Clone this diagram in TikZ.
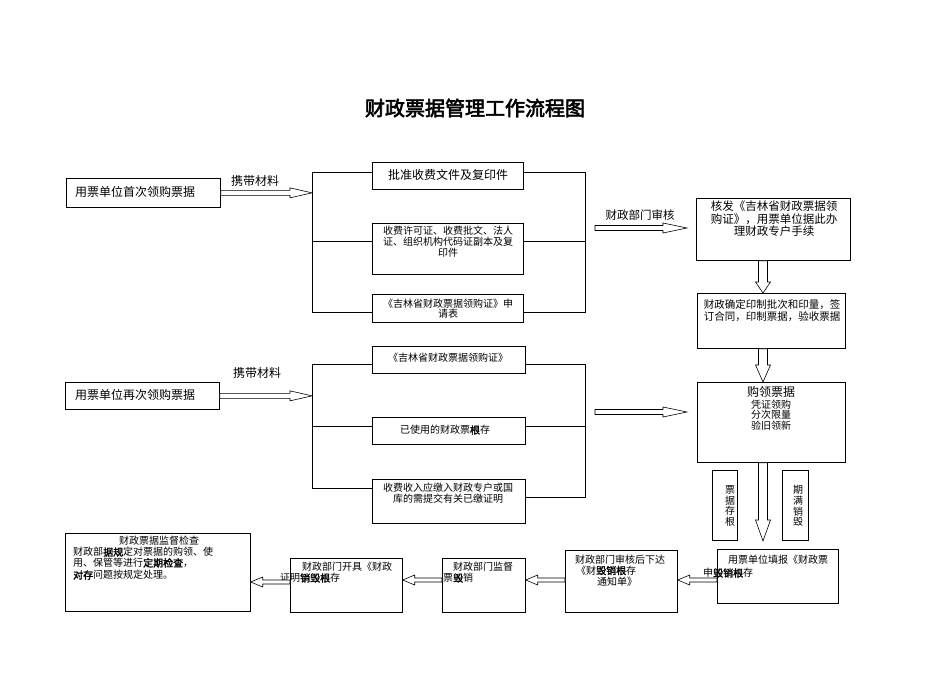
\documentclass[tikz,border=0pt]{standalone}
\usepackage{fontspec}
\setmainfont{Noto Sans CJK SC}
\newfontfamily\bdfont[FakeBold=2]{Noto Sans CJK SC}
\newfontfamily\titlefont[FakeBold=3]{Noto Sans CJK SC}
\usetikzlibrary{calc}
\newcommand\bd[1]{{\bdfont #1}}
\newcommand\fsz[2]{\fontsize{#1}{#2}\selectfont}
% horizontal arrow to the right: start, end, head length
\newcommand\arrR[3]{\draw[fatarrow] let \p1=#1, \p2=#2 in
  (\x1,\y1+2.5pt) -- (\x2-#3,\y1+2.5pt) -- (\x2-#3,\y1+5pt) -- (\x2,\y1) --
  (\x2-#3,\y1-5pt) -- (\x2-#3,\y1-2.5pt) -- (\x1,\y1-2.5pt) -- cycle;}
% horizontal arrow to the left
\newcommand\arrL[3]{\draw[fatarrow] let \p1=#1, \p2=#2 in
  (\x1,\y1+2pt) -- (\x2+#3,\y1+2pt) -- (\x2+#3,\y1+5pt) -- (\x2,\y1) --
  (\x2+#3,\y1-5pt) -- (\x2+#3,\y1-2pt) -- (\x1,\y1-2pt) -- cycle;}
% vertical arrow downwards
\newcommand\arrD[3]{\draw[fatarrow] let \p1=#1, \p2=#2 in
  (\x1-4.5pt,\y1) -- (\x1-4.5pt,\y2+#3) -- (\x1-7.5pt,\y2+#3) -- (\x1,\y2) --
  (\x1+7.5pt,\y2+#3) -- (\x1+4.5pt,\y2+#3) -- (\x1+4.5pt,\y1) -- cycle;}
\begin{document}
\begin{tikzpicture}[x=1pt,y=-1pt,
  box/.style={draw, line width=0.7pt, inner sep=0pt, anchor=north west},
  conn/.style={draw, line width=0.7pt},
  fatarrow/.style={draw, fill=white, line width=0.6pt, line join=miter},
  txt/.style={inner sep=0pt, align=center},
  ltxt/.style={inner sep=0pt, anchor=west}]
\useasboundingbox (0,0) rectangle (950,672);
\fill[white] (0,0) rectangle (950,672);

% title
\node[inner sep=0pt, font=\titlefont\fsz{20}{20}] (title) at (475,108) {财政票据管理工作流程图};

% ---------- first group ----------
\node[box, minimum width=154pt, minimum height=29pt] (A) at (66,178) {};
\node[ltxt, font=\fsz{12}{12}] (Atx) at (75,192) {用票单位首次领购票据};
\node[txt, font=\fsz{12}{12}] (lab1) at (255,181) {携带材料};

\node[box, minimum width=151pt, minimum height=27pt] (B1) at (372,162) {};
\node[txt, font=\fsz{12}{12}] (B1tx) at (448,175) {批准收费文件及复印件};
\node[box, minimum width=151pt, minimum height=51pt] (B2) at (372,223) {};
\node[txt, anchor=north, font=\fsz{10}{11}] (B2tx) at (448,226) {收费许可证、收费批文、法人\\证、组织机构代码证副本及复\\印件};
\node[box, minimum width=151pt, minimum height=28pt] (B3) at (372,294) {};
\node[txt, anchor=north, font=\fsz{10}{10}] (B3tx) at (448,299) {《吉林省财政票据领购证》申\\请表};

\coordinate (L1t) at (312,172); \coordinate (L1m) at (312,241); \coordinate (L1b) at (312,312);
\coordinate (R1t) at (585,172); \coordinate (R1m) at (585,241); \coordinate (R1b) at (585,312);
\draw[conn] (B1.west |- L1t) -- (L1t) -- (L1b) -- (B3.west |- L1b);
\draw[conn] (L1m) -- (B2.west |- L1m);
\draw[conn] (B1.east |- R1t) -- (R1t) -- (R1b) -- (B3.east |- R1b);
\draw[conn] (B2.east |- R1m) -- (R1m);
\arrR{(A.east)}{(L1t |- A.east)}{22pt}

\coordinate (s1) at (595,228); \coordinate (t1) at (687,228);
\arrR{(s1)}{(t1)}{24pt}
\node[txt, font=\fsz{11.5}{12}] (lab3) at (640,215) {财政部门审核};

% ---------- right column ----------
\node[box, minimum width=154pt, minimum height=62pt] (C1) at (696,198) {};
\node[txt, anchor=north, font=\fsz{11.5}{12.5}] (C1tx) at (774,201) {核发《吉林省财政票据领\\购证》，用票单位据此办\\理财政专户手续};
\node[box, minimum width=148pt, minimum height=55pt] (C2) at (697,293) {};
\node[txt, anchor=north, font=\fsz{10.5}{11.5}] (C2tx) at (772,299.5) {财政确定印制批次和印量，签\\订合同，印制票据，验收票据};
\node[box, minimum width=148pt, minimum height=80pt] (C3) at (697,382) {};
\node[txt, font=\fsz{12}{12}] (C3tx) at (771,392) {购领票据};
\node[txt, anchor=north, font=\fsz{10}{10.5}] (C3tx2) at (771,399.5) {凭证领购\\分次限量\\验旧领新};

\coordinate (vx) at (763,0);
\arrD{(C1.south -| vx)}{(C2.north -| vx)}{11pt}
\arrD{(C2.south -| vx)}{(C3.north -| vx)}{17pt}
\coordinate (v3e) at (763,541);
\arrD{(C3.south -| vx)}{(v3e)}{21pt}

\node[box, minimum width=25pt, minimum height=70pt] (E1) at (712,470) {};
\node[txt, anchor=north, font=\fsz{10}{10.8}] (E1tx) at (730,485) {票\\据\\存\\根};
\node[box, minimum width=26pt, minimum height=70pt] (E2) at (782,470) {};
\node[txt, anchor=north, font=\fsz{10}{10.8}] (E2tx) at (798,485) {期\\满\\销\\毁};

% ---------- second group ----------
\node[box, minimum width=154pt, minimum height=27pt] (A2) at (65,382) {};
\node[ltxt, font=\fsz{12}{12}] (A2tx) at (75,395) {用票单位再次领购票据};
\node[txt, font=\fsz{12}{12}] (lab2) at (257,373) {携带材料};

\node[box, minimum width=153pt, minimum height=27pt] (D1) at (372,346) {};
\node[txt, font=\fsz{10}{10}] (D1tx) at (448,358) {《吉林省财政票据领购证》};
\node[box, minimum width=153pt, minimum height=27pt] (D2) at (372,417) {};
\node[txt, font=\fsz{10}{10}] (D2tx) at (445,430) {已使用的财政票\bd{根}存};
\node[box, minimum width=153pt, minimum height=44pt] (D3) at (372,479) {};
\node[txt, anchor=north, font=\fsz{10}{11}] (D3tx) at (448,483) {收费收入应缴入财政专户或国\\库的需提交有关已缴证明};

\coordinate (L2t) at (312,364); \coordinate (L2m) at (312,426); \coordinate (L2b) at (312,488);
\coordinate (R2t) at (585,364); \coordinate (R2m) at (585,426); \coordinate (R2b) at (585,497);
\draw[conn] (D1.west |- L2t) -- (L2t) -- (L2b) -- (D3.west |- L2b);
\draw[conn] (L2m) -- (D2.west |- L2m);
\draw[conn] (D1.east |- R2t) -- (R2t) -- (R2b) -- (D3.east |- R2b);
\draw[conn] (D2.east |- R2m) -- (R2m);
\arrR{(A2.east)}{(L2t |- A2.east)}{22pt}

\coordinate (s2) at (595,412); \coordinate (t2) at (687,412);
\arrR{(s2)}{(t2)}{24pt}

% ---------- bottom row ----------
\node[box, minimum width=121pt, minimum height=54pt] (F1) at (717,549) {};
\node[txt, font=\fsz{10}{10}] (F1tx) at (778,560) {用票单位填报《财政票};
\node[ltxt, font=\fsz{10}{10}] (F1tx2) at (703,573) {申\bd{毁销根}存};

\node[box, minimum width=112pt, minimum height=62pt] (F2) at (565,550) {};
\node[txt, font=\fsz{10}{10}] (F2tx) at (620,559.5) {财政部门审核后下达};
\node[ltxt, font=\fsz{10}{10}] (F2tx2) at (576,570.5) {《财\bd{毁销根}存};
\node[txt, font=\fsz{10}{10}] (F2tx3) at (617,581.5) {通知单》};

\node[box, minimum width=83pt, minimum height=54pt] (F3) at (442,558) {};
\node[txt, font=\fsz{10}{10}] (F3tx) at (483,567) {财政部门监督};
\node[ltxt, font=\fsz{10}{10}] (F3tx2) at (443,578) {票\bd{毁}销};

\node[box, minimum width=112pt, minimum height=54pt] (F4) at (290,558) {};
\node[txt, font=\fsz{10}{10}] (F4tx) at (347,567) {财政部门开具《财政};
\node[ltxt, font=\fsz{10}{10}] (F4tx2) at (280,578) {证明\bd{销毁根}存};

\node[box, minimum width=185pt, minimum height=78pt] (G) at (65,533) {};
\node[txt, font=\fsz{10}{10}] (Gtx) at (159,541) {财政票据监督检查};
\node[ltxt, font=\fsz{10}{10}] (Gtx2) at (73,552) {财政部\bd{据规}定对票据的购领、使};
\node[ltxt, font=\fsz{10}{10}] (Gtx3) at (73,563) {用、保管等进行\bd{定期检查}，};
\node[ltxt, font=\fsz{10}{10}] (Gtx4) at (73,575) {\bd{对存}问题按规定处理。};

\coordinate (by) at (0,580); \coordinate (by2) at (0,582);
\arrL{(F1.west |- by)}{(F2.east |- by)}{12pt}
\arrL{(F2.west |- by)}{(F3.east |- by)}{12pt}
\arrL{(F3.west |- by)}{(F4.east |- by)}{12pt}
\arrL{(F4.west |- by2)}{(G.east |- by2)}{12pt}
\end{tikzpicture}
\end{document}
